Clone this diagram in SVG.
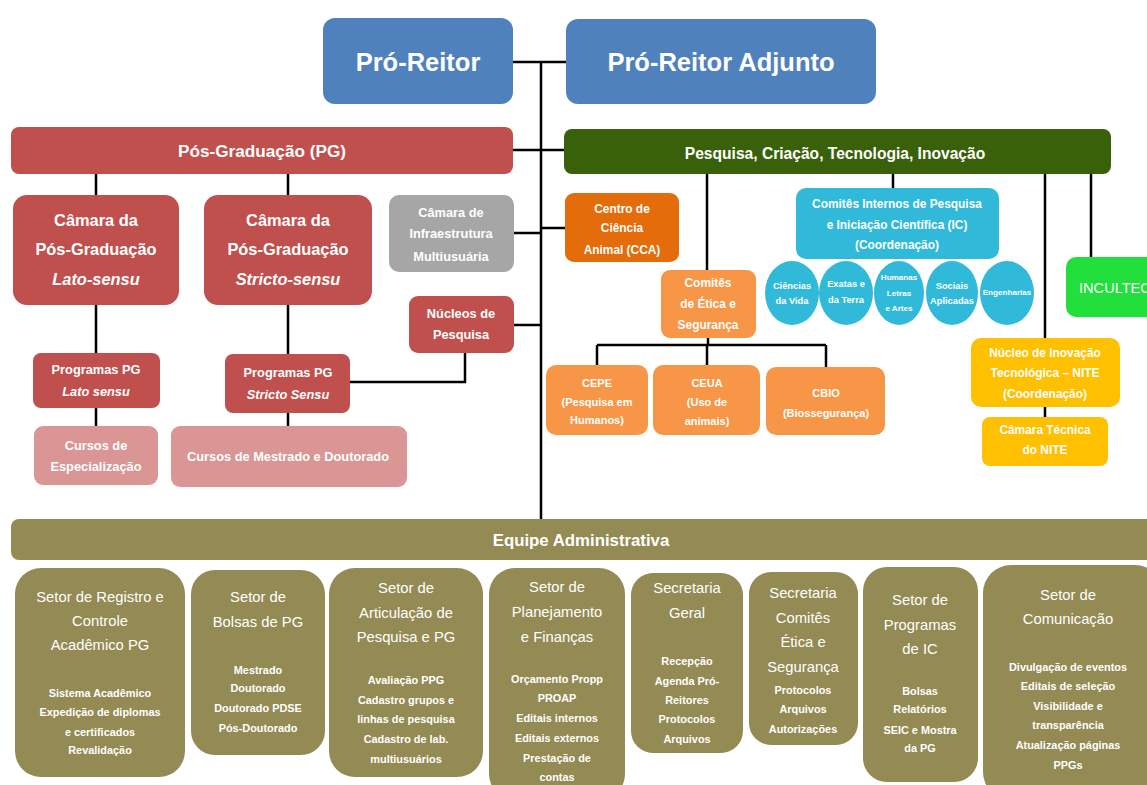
<svg xmlns="http://www.w3.org/2000/svg" width="1147" height="785" viewBox="0 0 1147 785">
<style>
text{font-family:"Liberation Sans",Arial,sans-serif;fill:#fff;text-anchor:middle;dominant-baseline:central;font-weight:bold}
.r{font-weight:normal}
.i{font-style:italic}
.c{stroke:#000;stroke-width:2.5;fill:none}
.blue{fill:#4f81bd}.red{fill:#c0504d}.pink{fill:#d99694}.gray{fill:#a6a6a6}
.dg{fill:#38610a}.do{fill:#e46c0a}.lo{fill:#f79646}.cy{fill:#31b9d9}
.gr{fill:#22e03c}.ye{fill:#ffc000}.ol{fill:#948a54}
.f31{font-size:25.5px}.f21{font-size:17.2px}.f20{font-size:16.4px}.f15{font-size:12.8px}.f14{font-size:11.9px}
.f12{font-size:11px}.f10{font-size:9.3px}.f9{font-size:8.1px}.f18{font-size:14.8px}.f13{font-size:10.9px}
</style>
<g id="connectors">
<path class="c" d="M512,62 H567 M541,61 V519 M513,150 H564 M514,233 H541 M514,325 H541 M541,228 H565"/>
<path class="c" d="M96,174 V195 M288,174 V195 M96,305 V353 M96,408 V426 M288,305 V354 M288,413 V426 M465,353 V382 H350"/>
<path class="c" d="M707,174 V270 M708,338 V345 M597,345 H826 M597,345 V365 M707,345 V365 M826,345 V367"/>
<path class="c" d="M893,174 V188 M1045,174 V338 M1045,407 V417 M1091,174 V257"/>
</g>
<g id="pro-reitor"><rect class="blue" x="323" y="18" width="190" height="86" rx="12"/><text class="f31" x="418" y="62">Pró-Reitor</text></g>
<g id="pro-reitor-adjunto"><rect class="blue" x="566" y="19" width="310" height="85" rx="12"/><text class="f31" x="721" y="62">Pró-Reitor Adjunto</text></g>
<g id="pos-graduacao"><rect class="red" x="11" y="127" width="502" height="47" rx="8"/><text class="f21" x="262" y="151">Pós-Graduação (PG)</text></g>
<g id="pesquisa"><rect class="dg" x="564" y="129" width="547" height="45" rx="8"/><text style="font-size:15.6px" x="835" y="153">Pesquisa, Criação, Tecnologia, Inovação</text></g>
<g id="camara-lato"><rect class="red" x="13" y="195" width="166" height="110" rx="14"/><text class="f20" x="96" y="220">Câmara da</text><text class="f20" x="96" y="249">Pós-Graduação</text><text class="f20 i" x="96" y="279">Lato-sensu</text></g>
<g id="camara-stricto"><rect class="red" x="204" y="195" width="168" height="110" rx="14"/><text class="f20" x="288" y="220">Câmara da</text><text class="f20" x="288" y="249">Pós-Graduação</text><text class="f20 i" x="288" y="279">Stricto-sensu</text></g>
<g id="camara-infra"><rect class="gray" x="389" y="195" width="125" height="77" rx="10"/><text class="f15" x="451" y="212">Câmara de</text><text class="f15" x="451" y="233">Infraestrutura</text><text class="f15" x="451" y="256">Multiusuária</text></g>
<g id="nucleos"><rect class="red" x="409" y="296" width="105" height="57" rx="9"/><text class="f15" x="461" y="313">Núcleos de</text><text class="f15" x="461" y="334">Pesquisa</text></g>
<g id="programas-lato"><rect class="red" x="33" y="353" width="127" height="55" rx="8"/><text class="f15" x="96" y="369">Programas PG</text><text class="f15 i" x="96" y="391">Lato sensu</text></g>
<g id="programas-stricto"><rect class="red" x="225" y="354" width="125" height="59" rx="8"/><text class="f15" x="288" y="372">Programas PG</text><text class="f15 i" x="288" y="394">Stricto Sensu</text></g>
<g id="cursos-especializacao"><rect class="pink" x="34" y="426" width="124" height="59" rx="9"/><text class="f15" x="96" y="445">Cursos de</text><text class="f15" x="96" y="466">Especialização</text></g>
<g id="cursos-mestrado"><rect class="pink" x="171" y="426" width="236" height="61" rx="9"/><text class="f15" x="288" y="456">Cursos de Mestrado e Doutorado</text></g>
<g id="cca"><rect class="do" x="565" y="193" width="114" height="69" rx="9"/><text class="f14" x="622" y="209">Centro de</text><text class="f14" x="622" y="228">Ciência</text><text class="f14" x="622" y="250">Animal (CCA)</text></g>
<g id="comites-etica"><rect class="lo" x="661" y="270" width="95" height="68" rx="9"/><text class="f14" x="708" y="283">Comitês</text><text class="f14" x="708" y="304">de Ética e</text><text class="f14" x="708" y="325">Segurança</text></g>
<g id="cepe"><rect class="lo" x="546" y="365" width="102" height="70" rx="10"/><text class="f12" x="597" y="383">CEPE</text><text class="f12" x="597" y="402">(Pesquisa em</text><text class="f12" x="597" y="420">Humanos)</text></g>
<g id="ceua"><rect class="lo" x="653" y="365" width="107" height="70" rx="10"/><text class="f12" x="707" y="383">CEUA</text><text class="f12" x="707" y="402">(Uso de</text><text class="f12" x="707" y="421">animais)</text></g>
<g id="cbio"><rect class="lo" x="766" y="367" width="119" height="68" rx="10"/><text class="f12" x="826" y="393">CBIO</text><text class="f12" x="826" y="413">(Biossegurança)</text></g>
<g id="comites-ic"><rect class="cy" x="796" y="188" width="203" height="71" rx="10"/><text class="f14" x="897" y="204">Comitês Internos de Pesquisa</text><text class="f14" x="897" y="225">e  Iniciação Científica (IC)</text><text class="f14" x="897" y="245">(Coordenação)</text></g>
<g id="ciencias-vida"><ellipse class="cy" cx="792" cy="293" rx="27" ry="32"/><text class="f10" x="792" y="286">Ciências</text><text class="f10" x="792" y="301">da Vida</text></g>
<g id="exatas"><ellipse class="cy" cx="846" cy="293" rx="27" ry="32"/><text class="f10" x="846" y="284">Exatas e</text><text class="f10" x="846" y="300">da Terra</text></g>
<g id="humanas"><ellipse class="cy" cx="899" cy="293" rx="25" ry="32"/><text class="f9" x="899" y="277">Humanas</text><text class="f9" x="899" y="293">Letras</text><text class="f9" x="899" y="308">e Artes</text></g>
<g id="sociais"><ellipse class="cy" cx="952" cy="293" rx="26" ry="32"/><text class="f10" x="952" y="286">Sociais</text><text class="f10" x="952" y="301">Aplicadas</text></g>
<g id="engenharias"><ellipse class="cy" cx="1007" cy="293" rx="27" ry="32"/><text class="f9" x="1007" y="292">Engenharias</text></g>
<g id="incultec"><rect class="gr" x="1066" y="257" width="100" height="60" rx="10"/><text class="r" style="font-size:14.6px;text-anchor:start" x="1079" y="288">INCULTEC</text></g>
<g id="nite"><rect class="ye" x="971" y="338" width="149" height="69" rx="10"/><text class="f14" x="1045" y="353">Núcleo de Inovação</text><text class="f14" x="1045" y="373">Tecnológica – NITE</text><text class="f14" x="1045" y="394">(Coordenação)</text></g>
<g id="camara-nite"><rect class="ye" x="982" y="417" width="126" height="49" rx="8"/><text class="f14" x="1045" y="430">Câmara Técnica</text><text class="f14" x="1045" y="450">do NITE</text></g>
<g id="equipe"><rect class="ol" x="11" y="519" width="1150" height="41" rx="8"/><text style="font-size:16.8px" x="581" y="540">Equipe Administrativa</text></g>
<g id="setor-registro"><rect class="ol" x="15" y="568" width="170" height="209" rx="26"/><text class="r f18" x="100" y="597">Setor de Registro e</text><text class="r f18" x="100" y="621">Controle</text><text class="r f18" x="100" y="645">Acadêmico PG</text><text class="f13" x="100" y="693">Sistema Acadêmico</text><text class="f13" x="100" y="712">Expedição de diplomas</text><text class="f13" x="100" y="732">e certificados</text><text class="f13" x="100" y="750">Revalidação</text></g>
<g id="setor-bolsas"><rect class="ol" x="191" y="570" width="134" height="185" rx="24"/><text class="r f18" x="258" y="597">Setor de</text><text class="r f18" x="258" y="622">Bolsas de PG</text><text class="f13" x="258" y="670">Mestrado</text><text class="f13" x="258" y="688">Doutorado</text><text class="f13" x="258" y="708">Doutorado PDSE</text><text class="f13" x="258" y="728">Pós-Doutorado</text></g>
<g id="setor-articulacao"><rect class="ol" x="329" y="568" width="154" height="209" rx="26"/><text class="r f18" x="406" y="588">Setor de</text><text class="r f18" x="406" y="613">Articulação de</text><text class="r f18" x="406" y="637">Pesquisa e PG</text><text class="f13" x="406" y="680">Avaliação PPG</text><text class="f13" x="406" y="700">Cadastro grupos e</text><text class="f13" x="406" y="719">linhas de pesquisa</text><text class="f13" x="406" y="739">Cadastro de lab.</text><text class="f13" x="406" y="759">multiusuários</text></g>
<g id="setor-planejamento"><rect class="ol" x="489" y="568" width="136" height="232" rx="26"/><text class="r f18" x="557" y="587">Setor de</text><text class="r f18" x="557" y="612">Planejamento</text><text class="r f18" x="557" y="637">e Finanças</text><text class="f13" x="557" y="679">Orçamento Propp</text><text class="f13" x="557" y="698">PROAP</text><text class="f13" x="557" y="718">Editais internos</text><text class="f13" x="557" y="738">Editais externos</text><text class="f13" x="557" y="758">Prestação de</text><text class="f13" x="557" y="777">contas</text></g>
<g id="secretaria-geral"><rect class="ol" x="631" y="573" width="112" height="180" rx="22"/><text class="r f18" x="687" y="588">Secretaria</text><text class="r f18" x="687" y="613">Geral</text><text class="f13" x="687" y="661">Recepção</text><text class="f13" x="687" y="681">Agenda Pró-</text><text class="f13" x="687" y="700">Reitores</text><text class="f13" x="687" y="719">Protocolos</text><text class="f13" x="687" y="739">Arquivos</text></g>
<g id="secretaria-comites"><rect class="ol" x="749" y="572" width="109" height="173" rx="22"/><text class="r f18" x="803" y="593">Secretaria</text><text class="r f18" x="803" y="618">Comitês</text><text class="r f18" x="803" y="642">Ética e</text><text class="r f18" x="803" y="667">Segurança</text><text class="f13" x="803" y="690">Protocolos</text><text class="f13" x="803" y="709">Arquivos</text><text class="f13" x="803" y="729">Autorizações</text></g>
<g id="setor-programas-ic"><rect class="ol" x="863" y="567" width="115" height="215" rx="24"/><text class="r f18" x="920" y="600">Setor de</text><text class="r f18" x="920" y="625">Programas</text><text class="r f18" x="920" y="649">de IC</text><text class="f13" x="920" y="691">Bolsas</text><text class="f13" x="920" y="709">Relatórios</text><text class="f13" x="920" y="730">SEIC e Mostra</text><text class="f13" x="920" y="748">da PG</text></g>
<g id="setor-comunicacao"><rect class="ol" x="983" y="565" width="180" height="235" rx="28"/><text class="r f18" x="1068" y="595">Setor de</text><text class="r f18" x="1068" y="619">Comunicação</text><text class="f13" x="1068" y="667">Divulgação de eventos</text><text class="f13" x="1068" y="686">Editais de seleção</text><text class="f13" x="1068" y="706">Visibilidade e</text><text class="f13" x="1068" y="725">transparência</text><text class="f13" x="1068" y="745">Atualização páginas</text><text class="f13" x="1068" y="765">PPGs</text></g>
</svg>
